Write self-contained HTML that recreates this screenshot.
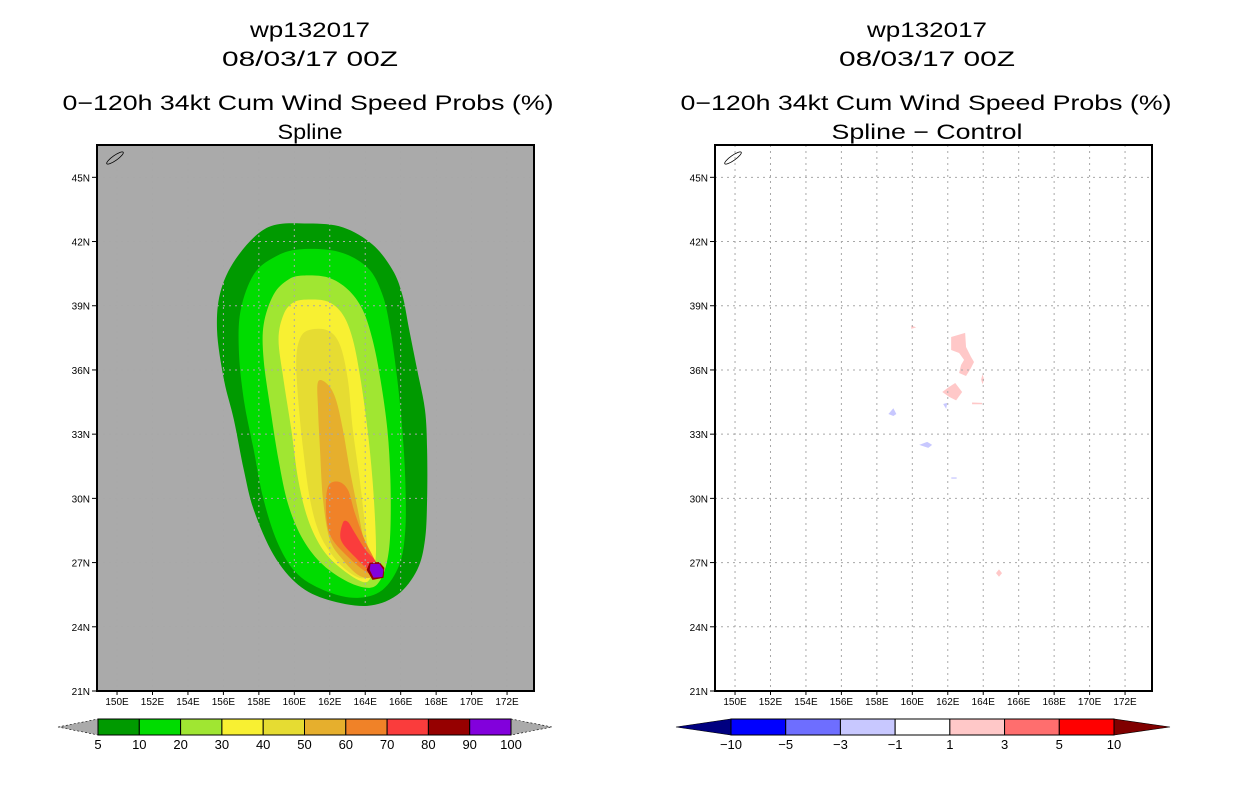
<!DOCTYPE html>
<html><head><meta charset="utf-8">
<style>
body{margin:0;background:#fff;}
svg{display:block;font-family:"Liberation Sans",sans-serif;}
</style></head>
<body>
<svg id="chart" width="1236" height="800" viewBox="0 0 1236 800">
<g font-size="21" text-anchor="middle" fill="#000">
<text x="310" y="37" textLength="120" lengthAdjust="spacingAndGlyphs">wp132017</text>
<text x="310" y="66" textLength="176" lengthAdjust="spacingAndGlyphs">08/03/17 00Z</text>
<text x="308" y="110" textLength="491" lengthAdjust="spacingAndGlyphs">0−120h 34kt Cum Wind Speed Probs (%)</text>
<text x="310" y="139" textLength="65" lengthAdjust="spacingAndGlyphs">Spline</text>
</g>
<g font-size="21" text-anchor="middle" fill="#000">
<text x="927" y="37" textLength="120" lengthAdjust="spacingAndGlyphs">wp132017</text>
<text x="927" y="66" textLength="176" lengthAdjust="spacingAndGlyphs">08/03/17 00Z</text>
<text x="926" y="110" textLength="491" lengthAdjust="spacingAndGlyphs">0−120h 34kt Cum Wind Speed Probs (%)</text>
<text x="927" y="139" textLength="191" lengthAdjust="spacingAndGlyphs">Spline − Control</text>
</g>
<g id="left"></g>
<g id="right"></g>
<g id="cbars"></g>
</svg>
<script>
const NS="http://www.w3.org/2000/svg";
const latTicks=[45,42,39,36,33,30,27,24,21];
const lonTicks=[150,152,154,156,158,160,162,164,166,168,170,172];
const probLevels=[5,10,20,30,40,50,60,70,80,90,100];
const probColors=["#009a00","#00dc00","#a0e632","#f8f032","#e6dc32","#e6af2d","#f08228","#fa3c3c","#960000","#8200dc"];
const diffLevels=[-10,-5,-3,-1,1,3,5,10];
const diffColors=["#0000ff","#6e6eff","#c8c8ff","#ffffff","#ffc8c8","#ff6e6e","#ff0000"];
const c5=[[160.78,42.84],[162.74,42.66],[164.41,41.86],[165.53,40.69],[166.09,39.52],[166.48,37.88],[166.93,36.01],[167.37,34.14],[167.49,32.27],[167.49,29.93],[167.37,28.06],[166.93,26.66],[165.81,25.49],[164.13,24.98],[161.9,25.26],[160.22,25.96],[158.83,27.36],[157.71,29.47],[157.15,31.34],[156.59,33.68],[156.03,35.55],[155.64,37.88],[155.87,39.76],[156.87,41.39],[158.55,42.68]];
const c10=[[160.22,41.63],[162.46,41.53],[164.13,40.78],[164.97,39.52],[165.42,37.88],[165.81,35.55],[166.09,33.21],[166.26,30.87],[166.26,28.53],[165.92,26.89],[164.97,25.72],[163.58,25.35],[161.9,25.63],[160.22,26.43],[159.11,27.83],[158.27,29.93],[157.71,32.27],[157.15,34.61],[156.87,36.95],[156.98,38.82],[157.71,40.46],[158.83,41.25]];
const c20=[[160.5,40.41],[161.9,40.32],[163.02,39.76],[163.85,38.82],[164.41,37.42],[164.86,35.55],[165.25,33.21],[165.42,30.87],[165.42,28.53],[165.25,27.13],[164.86,26.19],[164.25,25.82],[163.02,26.1],[161.62,26.89],[160.5,28.06],[159.66,29.7],[159.11,31.8],[158.66,34.14],[158.27,36.48],[158.27,38.12],[158.83,39.52],[159.66,40.22]];
const c30=[[160.78,39.29],[161.9,39.19],[162.74,38.58],[163.3,37.42],[163.74,35.55],[164.13,33.21],[164.41,30.87],[164.58,28.53],[164.58,27.13],[164.3,26.29],[163.85,26.1],[162.74,26.66],[161.62,27.59],[160.78,29.0],[160.22,30.87],[159.83,33.21],[159.39,35.55],[159.11,37.42],[159.39,38.58],[159.94,39.15]];
const c40=[[160.89,37.88],[161.9,37.84],[162.57,37.18],[163.02,35.55],[163.3,33.21],[163.69,30.87],[164.02,28.53],[164.25,26.89],[164.02,26.29],[163.3,26.43],[162.35,27.13],[161.45,28.3],[160.89,29.93],[160.5,32.27],[160.22,34.61],[160.11,36.48],[160.34,37.51]];
const c50=[[161.34,35.45],[161.9,35.31],[162.35,34.61],[162.74,33.21],[163.13,31.34],[163.58,29.47],[163.97,27.83],[164.36,26.66],[164.25,26.29],[163.58,26.43],[162.74,27.13],[162.01,28.06],[161.62,29.93],[161.45,32.27],[161.34,34.14]];
const c60=[[161.9,30.54],[162.46,30.78],[163.02,30.4],[163.41,29.33],[163.97,28.06],[164.53,27.13],[164.8,26.43],[164.13,26.52],[163.02,27.27],[162.07,28.2],[161.79,29.33]];
const c70=[[162.74,28.86],[163.02,28.9],[163.41,28.39],[164.02,27.59],[164.53,27.13],[164.86,26.52],[164.41,26.52],[163.41,27.27],[162.63,28.06]];
const c80=[[164.25,26.99],[164.8,27.03],[165.08,26.75],[165.03,26.29],[164.41,26.19],[164.08,26.66]];
const c90=[[164.3,26.94],[164.8,26.94],[165.03,26.66],[164.97,26.33],[164.47,26.29],[164.25,26.66]];
const probContours=[c5,c10,c20,c30,c40,c50,c60,c70,c80,c90];
const diffPos=[
 [[162.19,37.54],[162.98,37.73],[163.03,37.07],[163.31,36.61],[163.48,36.37],[163.31,36.09],[163.03,35.72],[162.64,35.86],[162.75,36.23],[162.92,36.47],[162.64,36.79],[162.19,36.93]],
 [[161.69,34.97],[162.08,35.21],[162.42,35.39],[162.81,34.97],[162.47,34.58],[162.08,34.74]],
 [[163.96,35.8],[164.05,35.55],[163.96,35.33],[163.88,35.55]],
 [[163.37,34.48],[163.93,34.46],[163.93,34.40],[163.37,34.40]],
 [[159.94,38.08],[160.22,37.99],[159.94,37.92]],
 [[164.89,26.68],[165.06,26.51],[164.89,26.34],[164.72,26.51]]
];
const diffNeg=[
 [[158.65,33.94],[158.93,34.21],[159.1,33.94],[158.93,33.85]],
 [[161.74,34.41],[161.97,34.46],[161.91,34.18]],
 [[160.39,32.5],[160.84,32.64],[161.12,32.5],[160.9,32.36]],
 [[162.2,30.98],[162.5,30.98],[162.5,30.92],[162.2,30.92]]
];
const LON0=148.87,LON1=173.52,LAT0=21,LAT1=46.51;
function mk(tag,attrs,parent){const e=document.createElementNS(NS,tag);for(const k in attrs)e.setAttribute(k,attrs[k]);parent.appendChild(e);return e;}
function smooth(pts){const n=pts.length;let d=`M${pts[0][0]},${pts[0][1]}`;
 for(let i=0;i<n;i++){const p0=pts[(i-1+n)%n],p1=pts[i],p2=pts[(i+1)%n],p3=pts[(i+2)%n];
  d+=`C${p1[0]+(p2[0]-p0[0])/6},${p1[1]+(p2[1]-p0[1])/6} ${p2[0]-(p3[0]-p1[0])/6},${p2[1]-(p3[1]-p1[1])/6} ${p2[0]},${p2[1]}`;}
 return d+"Z";}
function panel(g,x0,bg){
 const W=437,y0=145,H=546;
 const sx=lon=>x0+(lon-LON0)/(LON1-LON0)*W;
 const sy=lat=>y0+H-(lat-LAT0)/(LAT1-LAT0)*H;
 const clipId="clip"+x0;
 const cp=mk("clipPath",{id:clipId},g);mk("rect",{x:x0,y:y0,width:W,height:H},cp);
 const bgR=mk("rect",{x:x0,y:y0,width:W,height:H,fill:bg},g);
 
 
 const cg=mk("g",{"clip-path":`url(#${clipId})`},g);
 
 
 const isk=mk("ellipse",{cx:x0+18,cy:y0+13,rx:10,ry:2.5,fill:"none",stroke:"#000","stroke-width":0.8,transform:`rotate(-35 ${x0+18} ${y0+13})`},g);
 
 
 return {sx,sy,cg,W,H,y0};
}
function grid(g,P,x0){
 const gg=mk("g",{stroke:"#a8a8a8","stroke-width":1,"stroke-dasharray":"2,4",fill:"none"},g);
 
 
 lonTicks.forEach(l=>{const x=P.sx(l);mk("line",{x1:x,x2:x,y1:P.y0,y2:P.y0+P.H},gg);});
 latTicks.forEach(l=>{const y=P.sy(l);mk("line",{x1:x0,x2:x0+P.W,y1:y,y2:y},gg);});
 const fr=mk("rect",{x:x0,y:P.y0,width:P.W,height:P.H,fill:"none",stroke:"#000","stroke-width":2},g);
 
 
 latTicks.forEach(l=>{const y=P.sy(l);
  mk("line",{x1:x0-5,x2:x0,y1:y,y2:y,stroke:"#000"},g);
  const t=mk("text",{x:x0-7,y:y+4,"font-size":10,"text-anchor":"end"},g);t.textContent=l+"N";
  
  });
 lonTicks.forEach(l=>{const x=P.sx(l);
  mk("line",{x1:x,x2:x,y1:P.y0+P.H,y2:P.y0+P.H+4,stroke:"#000"},g);
  const t=mk("text",{x:x,y:P.y0+P.H+14,"font-size":10,"text-anchor":"middle"},g);t.textContent=l+"E";
  
  });
}
const L=panel(document.getElementById("left"),97,"#aaaaaa");
probContours.forEach((c,i)=>{
 const pts=c.map(p=>[L.sx(p[0]),L.sy(p[1])]);
 const p=mk("path",{d:i<8?smooth(pts):"M"+pts.map(q=>q.join(",")).join("L")+"Z",fill:probColors[i]},L.cg);
 
 
});
grid(document.getElementById("left"),L,97);
const R=panel(document.getElementById("right"),715,"#ffffff");
[[diffPos,"#ffc8c8"],[diffNeg,"#c8c8ff"]].forEach(([set,col])=>set.forEach(c=>{
 const pts=c.map(p=>[R.sx(p[0]),R.sy(p[1])]);
 const p=mk("path",{d:"M"+pts.map(q=>q.join(",")).join("L")+"Z",fill:col},R.cg);
 
 
}));
grid(document.getElementById("right"),R,715);
function cbar(x0,x1,tipL,tipR,colors,levels,lc,rc){
 const g=mk("g",{},document.getElementById("cbars"));
 
 
 const y0=719,y1=735,ym=727,w=(x1-x0)/colors.length;
 mk("polygon",{points:`${tipL},${ym} ${x0},${y0} ${x0},${y1}`,fill:lc,stroke:"#000","stroke-width":0.6,"stroke-dasharray":lc=="#aaaaaa"?"2,2":"none"},g);
 mk("polygon",{points:`${tipR},${ym} ${x1},${y0} ${x1},${y1}`,fill:rc,stroke:"#000","stroke-width":0.6,"stroke-dasharray":rc=="#aaaaaa"?"2,2":"none"},g);
 colors.forEach((c,i)=>{const r=mk("rect",{x:x0+i*w,y:y0,width:w,height:y1-y0,fill:c,stroke:"#000","stroke-width":1},g);
  
  });
 levels.forEach((l,i)=>{const t=mk("text",{x:x0+i*w,y:749,"font-size":13,"text-anchor":"middle"},g);t.textContent=String(l).replace("-","−");
  
  });
}
cbar(98,511,58,552,probColors,probLevels,"#aaaaaa","#aaaaaa");
cbar(731,1114,676,1170,diffColors,diffLevels,"#000080","#800000");
</script>
</body></html>
